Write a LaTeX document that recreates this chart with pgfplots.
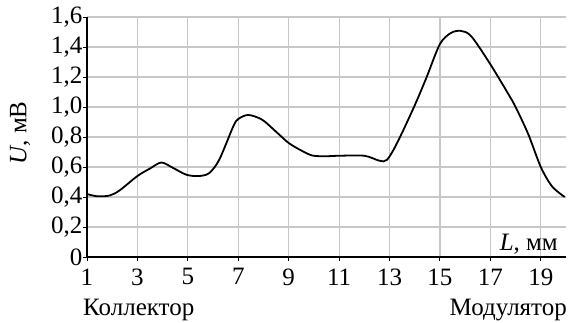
\documentclass[border=0pt]{standalone}
\usepackage{fontspec}
\setmainfont{Liberation Serif}
\usepackage{pgfplots}
\pgfplotsset{compat=1.18}
\begin{document}
\begin{tikzpicture}
\begin{axis}[
  name=ax,
  scale only axis,
  width=479pt, height=240pt,
  xmin=1, xmax=20, ymin=0, ymax=1.6,
  axis lines=left,
  axis line style={-, line width=1.6pt, black},
  xtick={1,3,...,19},
  ytick={0,0.2,...,1.6},
  yticklabels={0,{0,2},{0,4},{0,6},{0,8},{1,0},{1,2},{1,4},{1,6}},
  /pgf/number format/assume math mode=true,
  tick align=outside,
  major tick length=4pt,
  tick style={black, line width=1pt},
  grid=major,
  major grid style={line width=1.1pt, black!22},
  tick label style={font=\fontsize{25}{29}\selectfont},
  xticklabel style={yshift=-4pt},
  yticklabel style={xshift=3pt},
  clip=false,
]
\addplot[black, line width=1.8pt, smooth, tension=0.5] coordinates {
(1,0.42) (1.4,0.405) (1.9,0.41) (2.3,0.445) (3.0,0.54) (3.5,0.59) (3.95,0.63)
(4.4,0.595) (4.95,0.548) (5.45,0.54) (5.85,0.56) (6.25,0.65) (6.8,0.87)
(7.0,0.92) (7.4,0.947) (7.95,0.915) (8.5,0.835) (9.0,0.76) (9.5,0.71)
(9.95,0.676) (10.5,0.672) (11.0,0.675) (12.0,0.675) (12.6,0.642) (12.9,0.648)
(13.3,0.76) (13.97,1.0) (14.45,1.19) (15.0,1.42) (15.45,1.495) (15.85,1.507)
(16.25,1.47) (16.98,1.29) (17.7,1.09) (18.0,1.0) (18.5,0.82) (19.0,0.6)
(19.45,0.47) (19.95,0.40)
};
\end{axis}
\begin{scope}[every node/.style={font=\fontsize{25}{29}\selectfont, inner sep=0pt}]
\node[anchor=base east] at ([shift={(-8pt,7pt)}]ax.south east) {\textit{L}, мм};
\node[anchor=base west] at ([shift={(-4pt,-58pt)}]ax.south west) {Коллектор};
\node[anchor=base east] at ([shift={(1pt,-58pt)}]ax.south east) {Модулятор};
\node[rotate=90, anchor=center] at ([shift={(-67pt,124pt)}]ax.south west) {\textit{U}, мВ};
\end{scope}
\pgfresetboundingbox
\path[use as bounding box] ([shift={(-87pt,-65pt)}]ax.south west) rectangle ([shift={(5pt,17pt)}]ax.north east);
\end{tikzpicture}
\end{document}
